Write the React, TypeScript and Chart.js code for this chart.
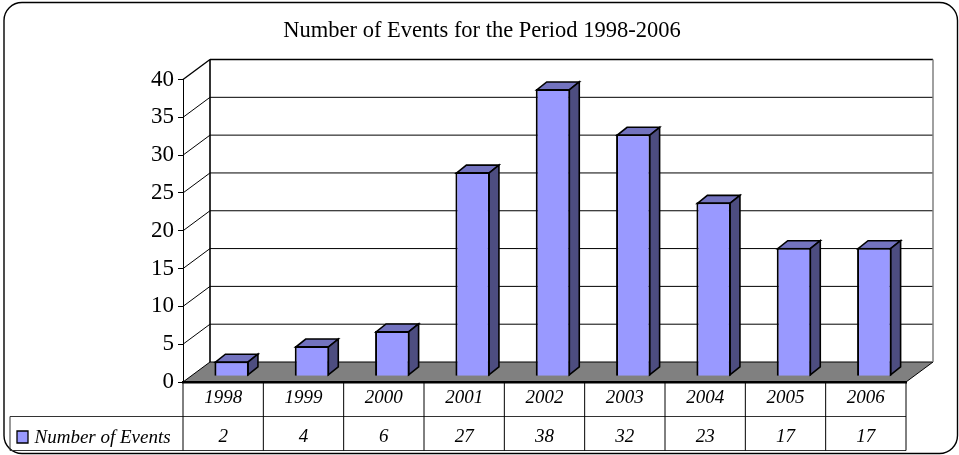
import React, { useEffect, useRef } from "react";
import { Chart, registerables } from "chart.js";

Chart.register(...registerables);

const years = ["1998", "1999", "2000", "2001", "2002", "2003", "2004", "2005", "2006"];
const events = [2, 4, 6, 27, 38, 32, 23, 17, 17];
const seriesName = "Number of Events";
const titleText = "Number of Events for the Period 1998-2006";

const SERIF = "'Liberation Serif', 'Times New Roman', serif";
const WALL_DX = 27;
const WALL_DY = -20;
const BAR_SHIFT_X = 8.5;
const BAR_SHIFT_Y = -5.7;
const BAR_DX = 10;
const BAR_DY = -8;
const FRONT = "#9999FF";
const TOP = "#7373BF";
const SIDE = "#4D4D80";

function poly(ctx: CanvasRenderingContext2D, pts: number[][], fill: string | null, stroke: string | null, lw = 1) {
  ctx.beginPath();
  pts.forEach((p, i) => (i ? ctx.lineTo(p[0], p[1]) : ctx.moveTo(p[0], p[1])));
  ctx.closePath();
  if (fill) {
    ctx.fillStyle = fill;
    ctx.fill();
  }
  if (stroke) {
    ctx.strokeStyle = stroke;
    ctx.lineWidth = lw;
    ctx.stroke();
  }
}

function line(ctx: CanvasRenderingContext2D, x1: number, y1: number, x2: number, y2: number, color = "#000", lw = 1) {
  ctx.beginPath();
  ctx.moveTo(x1, y1);
  ctx.lineTo(x2, y2);
  ctx.strokeStyle = color;
  ctx.lineWidth = lw;
  ctx.stroke();
}

const scene3d = {
  id: "scene3d",
  beforeDraw(chart: any) {
    const { ctx, chartArea: a, scales } = chart;
    ctx.save();
    ctx.fillStyle = "#fff";
    ctx.fillRect(0, 0, chart.width, chart.height);
    ctx.beginPath();
    ctx.roundRect(4, 2.5, 953.5, 451, 18);
    ctx.strokeStyle = "#000";
    ctx.lineWidth = 1.4;
    ctx.stroke();

    const bx = a.left + WALL_DX;
    const rx = a.right + WALL_DX;
    const by = a.bottom + WALL_DY;
    const ty = a.top + WALL_DY;

    poly(ctx, [[a.left, a.bottom], [a.right, a.bottom], [rx, by], [bx, by]], "#808080", "#000", 1);

    for (const t of scales.y.ticks) {
      const y = scales.y.getPixelForValue(t.value);
      if (t.value > 0) {
        line(ctx, a.left, y, bx, y + WALL_DY, "#000", t.value === 40 ? 1.4 : 1);
        line(ctx, bx, y + WALL_DY, rx, y + WALL_DY, "#000", t.value === 40 ? 1.6 : 1);
      }
    }
    line(ctx, bx, ty, bx, by, "#000", 1.6);
    line(ctx, rx, ty, rx, by, "#808080", 1.5);
    ctx.restore();
  },
  beforeDatasetsDraw(chart: any) {
    const { ctx } = chart;
    ctx.save();
    ctx.translate(BAR_SHIFT_X, BAR_SHIFT_Y);
    const meta = chart.getDatasetMeta(0);
    for (const el of meta.data) {
      const p = el.getProps(["x", "y", "base", "width"], true);
      const l = p.x - p.width / 2 + 1;
      const r = p.x + p.width / 2 - 1;
      const t = p.y + 1;
      const b = p.base - 1;
      poly(ctx, [[l, t], [r, t], [r + BAR_DX, t + BAR_DY], [l + BAR_DX, t + BAR_DY]], TOP, "#000", 1.6);
      poly(ctx, [[r, t], [r + BAR_DX, t + BAR_DY], [r + BAR_DX, b + BAR_DY], [r, b]], SIDE, "#000", 1.6);
    }
  },
  afterDatasetsDraw(chart: any) {
    const { ctx, chartArea: a, scales } = chart;
    ctx.restore();
    ctx.save();
    const row1 = 416.5;
    const row2 = 450.5;
    const legendX = 10;
    const band = (a.right - a.left) / years.length;

    line(ctx, legendX, row1, a.right, row1, "#333", 1);
    line(ctx, legendX, row2, a.right, row2, "#333", 1);
    line(ctx, legendX, row1, legendX, row2, "#333", 1);
    line(ctx, a.left, a.bottom, a.left, row2, "#000", 1);
    years.forEach((_, i) => {
      const x = scales.x.getPixelForValue(i) + band / 2;
      line(ctx, x, a.bottom, x, row2, "#000", 1);
    });

    ctx.font = `italic 19px ${SERIF}`;
    ctx.fillStyle = "#000";
    ctx.textBaseline = "alphabetic";
    ctx.textAlign = "center";
    events.forEach((v, i) => ctx.fillText(String(v), scales.x.getPixelForValue(i), 442));

    ctx.textAlign = "left";
    ctx.fillText(seriesName, 34.5, 443);
    ctx.beginPath();
    ctx.rect(17, 431, 11, 12);
    ctx.fillStyle = FRONT;
    ctx.fill();
    ctx.strokeStyle = "#000";
    ctx.lineWidth = 1.3;
    ctx.stroke();
    ctx.restore();
  },
};

export default function App() {
  const ref = useRef<HTMLCanvasElement>(null);
  useEffect(() => {
    const chart = new Chart(ref.current!, {
      type: "bar",
      data: {
        labels: years,
        datasets: [
          {
            label: seriesName,
            data: events,
            backgroundColor: FRONT,
            borderColor: "#000",
            borderWidth: 2,
            categoryPercentage: 1,
            barPercentage: 0.43,
          },
        ],
      },
      plugins: [scene3d],
      options: {
        responsive: false,
        animation: false,
        layout: { padding: { left: 58, right: 53, top: 0, bottom: 0 } },
        plugins: {
          legend: { display: false },
          tooltip: { enabled: false },
          title: {
            display: true,
            text: titleText,
            color: "#000",
            font: { family: SERIF, size: 22.5, weight: "normal", lineHeight: 1.2 },
            padding: { top: 18, bottom: 34.5 },
          },
        },
        scales: {
          x: {
            grid: { display: false },
            border: { display: true, color: "#000", width: 2.5 },
            ticks: {
              color: "#000",
              font: { family: SERIF, size: 19, style: "italic" },
              padding: -3,
              maxRotation: 0,
              autoSkip: false,
            },
            afterFit(s: any) {
              s.height = 73;
            },
          },
          y: {
            min: 0,
            max: 40,
            grid: { drawOnChartArea: false, drawTicks: true, tickLength: 5, color: "#000" },
            border: { display: true, color: "#000", width: 1 },
            ticks: {
              stepSize: 5,
              color: "#000",
              font: { family: SERIF, size: 23 },
              padding: 4,
            },
            afterFit(s: any) {
              s.width = 125;
            },
          },
        },
      },
    } as any);
    return () => chart.destroy();
  }, []);
  return (
    <div style={{ position: "absolute", left: 0, top: 0, width: 959, height: 455 }}>
      <canvas ref={ref} width={959} height={455} style={{ display: "block" }} />
    </div>
  );
}
